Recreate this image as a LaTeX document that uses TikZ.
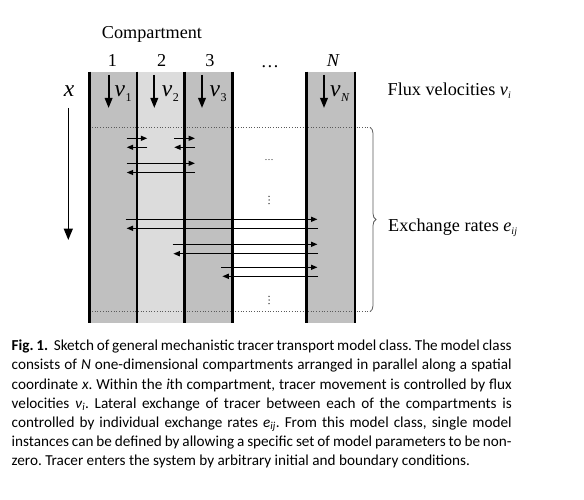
\documentclass[tikz,border=0pt]{standalone}
\usepackage{fontspec}
\setmainfont{Carlito}
\newfontfamily\tms{Liberation Serif}
\usetikzlibrary{arrows.meta,decorations.pathreplacing}
\definecolor{darkcol}{RGB}{192,192,192}
\definecolor{lightcol}{RGB}{220,220,220}
\definecolor{dotcol}{RGB}{90,90,90}
\frenchspacing
\newcommand{\lab}[1]{{\tms\fontsize{18.2}{20}\selectfont #1}}
\newcommand{\vel}[1]{{\tms\fontsize{23.5}{24}\selectfont\textit{v}\kern0.5pt\raisebox{-4.5pt}{\fontsize{12}{12}\selectfont #1}}}
\newcommand{\capline}[1]{\makebox[500pt][s]{#1}}
\begin{document}
\begin{tikzpicture}[x=1pt,y=-1pt,
  wall/.style={line width=2.6pt},
  flowarrow/.style={line width=1.9pt,-{Triangle[length=10pt,width=7.5pt]}},
  xaxisarrow/.style={line width=1.6pt,-{Triangle[length=11.5pt,width=9pt]}},
  exarrow/.style={line width=1.4pt,-{Triangle[length=6.5pt,width=5pt]}},
  dotline/.style={dotted,dotcol,line width=0.7pt},
  vdot/.style={fill=black!80,radius=0.75pt},
  txt/.style={inner sep=0pt,anchor=base},
  captxt/.style={inner sep=0pt,anchor=base west,font=\fontsize{15.2}{19}\selectfont}]
\useasboundingbox[fill=white] (0,0) rectangle (584,500);
% walls x
\def\wallA{89.3}\def\wallB{137}\def\wallC{184.7}\def\wallD{232.5}\def\wallE{306.5}\def\wallF{355}
\def\ytop{71.7}\def\ybot{323.3}
% fills
\fill[darkcol] (\wallA,\ytop) rectangle (\wallB,\ybot);
\fill[lightcol] (\wallB,\ytop) rectangle (\wallC,\ybot);
\fill[darkcol] (\wallC,\ytop) rectangle (\wallD,\ybot);
\fill[darkcol] (\wallE,\ytop) rectangle (\wallF,\ybot);
% dotted lines and brace
\coordinate (d1a) at (\wallA,127.3); \coordinate (d1b) at (370,127.3);
\coordinate (d2a) at (\wallA,311.7); \coordinate (d2b) at (370,311.7);
\draw[dotline] (d1a) -- (d1b);
\draw[dotline] (d2a) -- (d2b);
\draw[dotcol,line width=0.8pt,decorate,decoration={brace,amplitude=6pt}] (d1b) -- (d2b);
% walls
\foreach \w in {\wallA,\wallB,\wallC,\wallD,\wallE,\wallF}
  \draw[wall] (\w,\ytop) -- (\w,\ybot);
% headings
\node[txt] (comp) at (152,38.3) {\lab{Compartment}};
\node[txt] (n1) at (112.3,66.7) {\lab{1}};
\node[txt] (n2) at (161.7,66.7) {\lab{2}};
\node[txt] (n3) at (210,66.7) {\lab{3}};
\node[txt] (ndots) at (270,67.5) {\lab{\ldots}};
\node[txt] (nN) at (333.3,66.7) {\lab{\textit{N}}};
\node[txt] (xlab) at (69,96.7) {{\tms\fontsize{23.5}{24}\selectfont\textit{x}}};
% x axis arrow
\coordinate (xs) at (68.3,108); \coordinate (xe) at (68.3,240);
\draw[xaxisarrow] (xs) -- (xe);
% flux arrows and labels
\foreach \ax/\lx/\sub/\nm in {108.6/114.5/1/v1, 154.3/161.7/2/v2, 202/209.5/3/v3, 324/330/\textit{N}/vN}{
  \coordinate (\nm s) at (\ax,75); \coordinate (\nm e) at (\ax,108);
  \draw[flowarrow] (\nm s) -- (\nm e);
  \node[inner sep=0pt,anchor=base west] (\nm l) at (\lx,96.7) {\vel{\sub}};
}
\node[inner sep=0pt,anchor=base west] (flux) at (387.5,95.5) {\lab{Flux velocities \textit{v}\raisebox{-3pt}{\fontsize{10}{10}\selectfont\textit{i}}}};
\node[inner sep=0pt,anchor=base west] (exch) at (388,231) {\lab{Exchange rates \textit{e}\raisebox{-3pt}{\fontsize{10}{10}\selectfont\textit{ij}}}};
% exchange arrows
\foreach \y/\xl/\xr [count=\i] in {138.3/126.7/147.3, 138.3/174.2/195, 163.3/126.7/195, 219.3/125.5/317.5, 244.3/172.5/317.5, 267.3/221/317.5}{
  \coordinate (ra\i) at (\xl,\y); \coordinate (rb\i) at (\xr,\y);
  \draw[exarrow] (ra\i) -- (rb\i);
}
\foreach \y/\xl/\xr [count=\i] in {147.3/126.7/147.3, 147.3/174.2/195, 172.5/126.7/195, 228.3/126.5/318, 253.7/173.3/318, 276.3/222.3/318}{
  \coordinate (la\i) at (\xl,\y); \coordinate (lb\i) at (\xr,\y);
  \draw[exarrow] (lb\i) -- (la\i);
}
% dots in gap
\node[txt] (hd) at (269,161) {{\tms\fontsize{9}{9}\selectfont\ldots}};
\foreach \yc in {200,300}{
  \fill[vdot] (269,\yc-3.6) circle;
  \fill[vdot] (269,\yc) circle;
  \fill[vdot] (269,\yc+3.6) circle;
}
% caption
\node[captxt] (c1) at (11.5,350.7) {\capline{\textbf{Fig. 1.}\ \ Sketch of general mechanistic tracer transport model class. The model class}};
\node[captxt] (c2) at (11.5,369.9) {\capline{consists of \textit{N} one-dimensional compartments arranged in parallel along a spatial}};
\node[captxt] (c3) at (11.5,389.1) {\capline{coordinate \textit{x}. Within the \textit{i}th compartment, tracer movement is controlled by flux}};
\node[captxt] (c4) at (11.5,408.3) {\capline{velocities \textit{ν}\textsubscript{\textit{i}}. Lateral exchange of tracer between each of the compartments is}};
\node[captxt] (c5) at (11.5,427.5) {\capline{controlled by individual exchange rates \textit{e}\textsubscript{\textit{ij}}. From this model class, single model}};
\node[captxt] (c6) at (11.5,446.7) {\capline{instances can be defined by allowing a specific set of model parameters to be non-}};
\node[captxt] (c7) at (11.5,465.9) {zero. Tracer enters the system by arbitrary initial and boundary conditions.};
\end{tikzpicture}
\end{document}
